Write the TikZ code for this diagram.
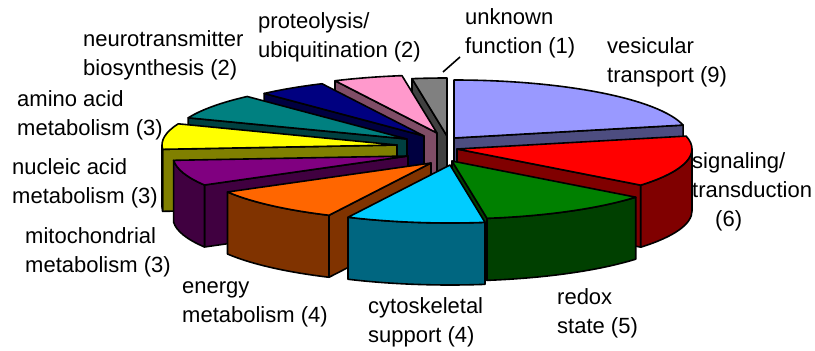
\documentclass[tikz,border=0pt]{standalone}
\usepackage{fontspec}
\setmainfont{Liberation Sans}
\definecolor{cVes}{HTML}{9999FF}\definecolor{dVes}{HTML}{4D4D80}
\definecolor{cSig}{HTML}{FF0000}\definecolor{dSig}{HTML}{800000}
\definecolor{cRed}{HTML}{008000}\definecolor{dRed}{HTML}{004000}
\definecolor{cCyt}{HTML}{00CCFF}\definecolor{dCyt}{HTML}{006680}
\definecolor{cEne}{HTML}{FF6600}\definecolor{dEne}{HTML}{803300}
\definecolor{cMit}{HTML}{800080}\definecolor{dMit}{HTML}{400040}
\definecolor{cNuc}{HTML}{FFFF00}\definecolor{dNuc}{HTML}{808000}
\definecolor{cAmi}{HTML}{008080}\definecolor{dAmi}{HTML}{004040}
\definecolor{cNeu}{HTML}{000080}\definecolor{dNeu}{HTML}{000040}
\definecolor{cPro}{HTML}{FF99CC}\definecolor{dPro}{HTML}{804D66}
\definecolor{cUnk}{HTML}{808080}\definecolor{dUnk}{HTML}{404040}
\def\RX{235}\def\RY{58}\def\DP{62}
\newcommand\pieslice[6]{% apex x, apex y, start, end, top colour, side colour
  \pgfmathsetmacro\pzsx{#1+\RX*sin(#3)}\pgfmathsetmacro\pzsy{#2-\RY*cos(#3)}
  \pgfmathsetmacro\pzex{#1+\RX*sin(#4)}\pgfmathsetmacro\pzey{#2-\RY*cos(#4)}
  \pgfmathsetmacro\pzss{sin(#3)}\pgfmathsetmacro\pzes{sin(#4)}
  \pgfmathsetmacro\pza{max(#3,90)}\pgfmathsetmacro\pzb{min(#4,270)}
  \ifdim\pzss pt<-0.01pt
    \filldraw[pie,fill=#6] ({#1},{#2}) -- (\pzsx,\pzsy) -- ++(0,\DP) -- ({#1},{#2+\DP}) -- cycle;
  \fi
  \ifdim\pzes pt>0.01pt
    \filldraw[pie,fill=#6] ({#1},{#2}) -- (\pzex,\pzey) -- ++(0,\DP) -- ({#1},{#2+\DP}) -- cycle;
  \fi
  \ifdim\pza pt<\pzb pt
    \pgfmathsetmacro\pzax{#1+\RX*sin(\pza)}\pgfmathsetmacro\pzay{#2-\RY*cos(\pza)}
    \filldraw[pie,fill=#6] (\pzax,\pzay) arc[start angle=\pza-90, end angle=\pzb-90, x radius=\RX, y radius=\RY]
      -- ++(0,\DP) arc[start angle=\pzb-90, end angle=\pza-90, x radius=\RX, y radius=\RY] -- cycle;
  \fi
  \filldraw[pie,fill=#5] ({#1},{#2}) -- (\pzsx,\pzsy) arc[start angle=#3-90, end angle=#4-90, x radius=\RX, y radius=\RY] -- cycle;
}
\begin{document}
\begin{tikzpicture}[x=1pt,y=-1pt,
  pie/.style={draw=black, line width=1.6pt, line join=round},
  lbl/.style={font=\fontsize{22}{28.5}\selectfont, align=left, inner sep=0pt, anchor=base west},
  leader/.style={draw=black, line width=1.6pt}]
\useasboundingbox (0,0) rectangle (815,351);
% slices, back to front
\pieslice{447}{136}{351.4286}{360}{cUnk}{dUnk}
\pieslice{437}{133}{334.2857}{351.4286}{cPro}{dPro}
\pieslice{424}{136}{317.1429}{334.2857}{cNeu}{dNeu}
\pieslice{454}{138}{0}{77.1429}{cVes}{dVes}
\pieslice{407}{139}{291.4286}{317.1429}{cAmi}{dAmi}
\pieslice{397}{145}{265.7143}{291.4286}{cNuc}{dNuc}
\pieslice{457}{149}{77.1429}{128.5714}{cSig}{dSig}
\pieslice{408}{156}{240}{265.7143}{cMit}{dMit}
\pieslice{431}{163}{205.7143}{240}{cEne}{dEne}
\pieslice{452}{161}{128.5714}{171.4286}{cRed}{dRed}
\pieslice{450}{165}{171.4286}{205.7143}{cCyt}{dCyt}
% labels (anchor at baseline of last line)
\node[lbl] (neu) at (83,75) {neurotransmitter\\biosynthesis (2)};
\node[lbl] (pro) at (258,57) {proteolysis/\\ubiquitination (2)};
\node[lbl] (unk) at (465,53) {unknown\\function (1)};
\node[lbl] (ves) at (607,82) {vesicular\\transport (9)};
\node[lbl] (sig) at (692,197) {signaling/\\transduction};
\node[lbl] (sig6) at (715,226) {(6)};
\node[lbl] (ami) at (17,135) {amino acid\\metabolism (3)};
\node[lbl] (nuc) at (12,203) {nucleic acid\\metabolism (3)};
\node[lbl] (mit) at (25,272) {mitochondrial\\metabolism (3)};
\node[lbl] (ene) at (182,322) {energy\\metabolism (4)};
\node[lbl] (cyt) at (368,342) {cytoskeletal\\support (4)};
\node[lbl] (red) at (557,333) {redox\\state (5)};
\coordinate (uka) at (443,72);
\coordinate (ukb) at (460,57);
\draw[leader] (uka) -- (ukb);
\end{tikzpicture}
\end{document}
